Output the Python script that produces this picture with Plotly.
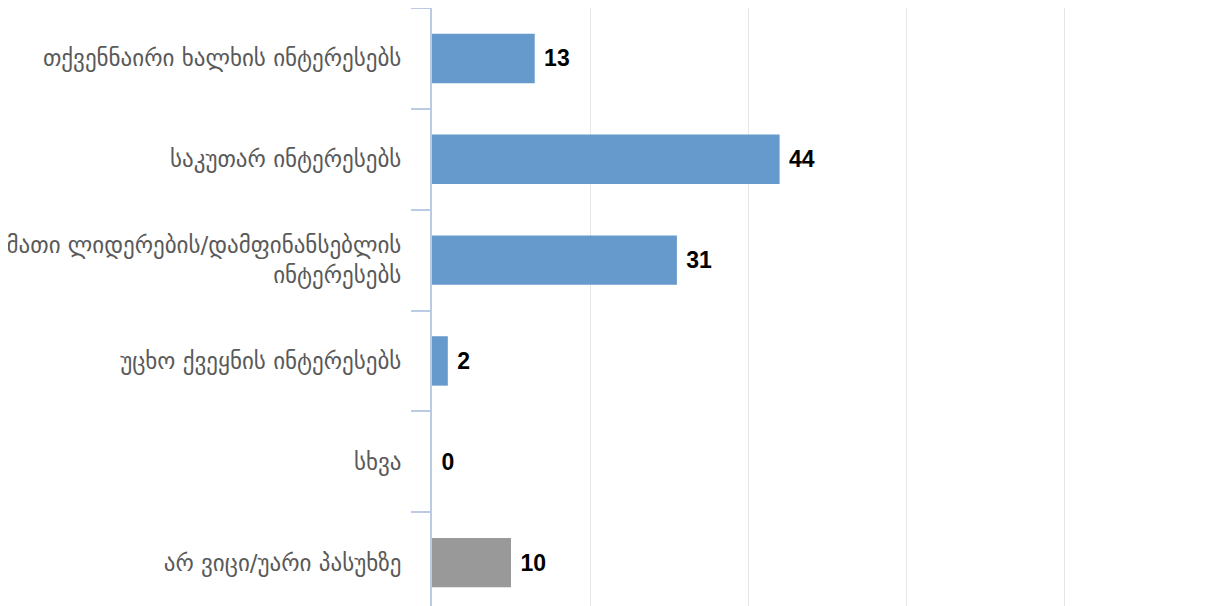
import plotly.graph_objects as go

categories = [
    "თქვენნაირი ხალხის ინტერესებს",
    "საკუთარ ინტერესებს",
    "მათი ლიდერების/დამფინანსებლის<br>ინტერესებს",
    "უცხო ქვეყნის ინტერესებს",
    "სხვა",
    "არ ვიცი/უარი პასუხზე",
]
values = [13, 44, 31, 2, 0, 10]
colors = ["#6699CC", "#6699CC", "#6699CC", "#6699CC", "#6699CC", "#999999"]

fig = go.Figure(go.Bar(
    y=categories,
    x=values,
    orientation="h",
    marker=dict(color=colors, line=dict(width=0)),
    text=[" " + str(v) for v in values],
    textposition="outside",
    constraintext="none",
    textfont=dict(family="Liberation Sans", size=23, color="#000000", weight="bold"),
    cliponaxis=False,
    width=0.49,
))

fig.update_layout(
    width=1223, height=598,
    margin=dict(l=424, r=9, t=0, b=0),
    paper_bgcolor="white",
    plot_bgcolor="white",
    showlegend=False,
    xaxis=dict(
        range=[0, 100], dtick=20, showticklabels=False,
        showgrid=True, gridcolor="#E6E6E6", gridwidth=1,
        zeroline=False, showline=False, fixedrange=True,
    ),
    yaxis=dict(
        type="category",
        autorange=False,
        range=[5.43, -0.5],
        showline=True, linecolor="#B9CCE4", linewidth=2,
        ticks="outside", tickson="boundaries", ticklen=19,
        tickcolor="#B9CCE4", tickwidth=2,
        tickfont=dict(family="DejaVu Sans", size=23, color="#595959"),
        ticklabelstandoff=24,
        showgrid=False, zeroline=False,
        automargin=False,
    ),
)

fig.write_html("out.html")
